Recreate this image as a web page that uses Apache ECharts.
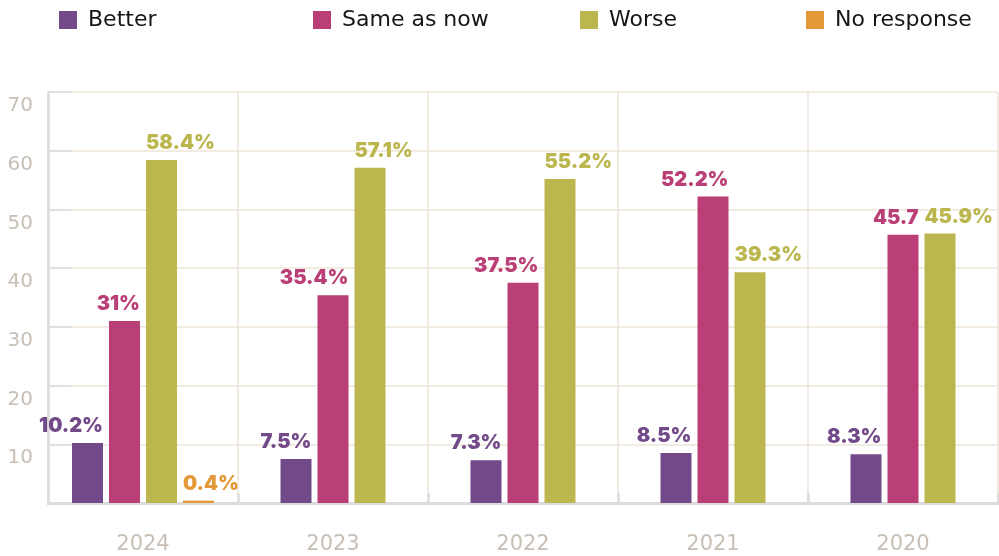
<!DOCTYPE html>
<html>
<head>
<meta charset="utf-8">
<script src="https://cdn.jsdelivr.net/npm/echarts@6/dist/echarts.min.js"></script>
<style>
  html, body { margin: 0; padding: 0; background: #ffffff; }
  #chart { width: 999px; height: 556px; }
</style>
</head>
<body>
<div id="chart"></div>
<script>
// Survey years and answer shares (%)
const categories = ['2024', '2023', '2022', '2021', '2020'];
const better = [10.2, 7.5, 7.3, 8.5, 8.3];
const sameAsNow = [31, 35.4, 37.5, 52.2, 45.7];
const worse = [58.4, 57.1, 55.2, 39.3, 45.9];
const noResponse = [0.4, null, null, null, null];
const yMax = 70;
const yStep = 10;
// values whose printed label carries no percent sign
const bareLabels = [['Same as now', '2020']];

const seriesDefs = [
  { name: 'Better', values: better, color: '#734a89', align: 'right' },
  { name: 'Same as now', values: sameAsNow, color: '#b93f76', align: 'right' },
  { name: 'Worse', values: worse, color: '#bcb64f', align: 'left' },
  { name: 'No response', values: noResponse, color: '#e3993a', align: 'left' }
];

const BAR_W = 31;
const BAR_GAP = 6;
const LABEL_FONT = '900 20px Inter, "DejaVu Sans", sans-serif';

function labelText(def, ci, v) {
  const bare = bareLabels.some(p => p[0] === def.name && p[1] === categories[ci]);
  return bare ? String(v) : v + '%';
}

// Bars in each year are grouped only over the answers present that year,
// so the group stays centred in its band.
function makeRenderer(si) {
  const def = seriesDefs[si];
  return function (params, api) {
    const ci = api.value(0);
    const v = api.value(1);
    const present = seriesDefs
      .map((d, i) => (d.values[ci] != null ? i : -1))
      .filter(i => i >= 0);
    const n = present.length;
    const slot = present.indexOf(si);
    const base = api.coord([ci, 0]);
    const top = api.coord([ci, v]);
    const groupW = n * BAR_W + (n - 1) * BAR_GAP;
    const x0 = base[0] - groupW / 2 + slot * (BAR_W + BAR_GAP);
    const tx = def.align === 'right' ? x0 + BAR_W : x0;
    return {
      type: 'group',
      children: [
        {
          type: 'rect',
          shape: { x: x0, y: top[1], width: BAR_W, height: base[1] - top[1] },
          style: { fill: def.color }
        },
        {
          type: 'text',
          style: {
            text: labelText(def, ci, v),
            x: tx,
            y: top[1] - 7,
            align: def.align,
            verticalAlign: 'bottom',
            fill: def.color,
            font: LABEL_FONT
          }
        }
      ]
    };
  };
}

const series = seriesDefs.map((def, si) => ({
  name: def.name,
  type: 'custom',
  renderItem: makeRenderer(si),
  itemStyle: { color: def.color },
  encode: { x: 0, y: 1 },
  data: def.values
    .map((v, ci) => (v == null ? null : [ci, v]))
    .filter(d => d !== null),
  z: 3
}));

const legendLefts = [59, 313, 580, 806];
const legend = seriesDefs.map((def, i) => ({
  data: [def.name],
  left: legendLefts[i],
  top: 9,
  padding: 0,
  icon: 'rect',
  itemWidth: 18,
  itemHeight: 18,
  selectedMode: false,
  textStyle: {
    fontFamily: '"DejaVu Sans", sans-serif',
    fontSize: 22,
    color: '#161616',
    padding: [2, 0, 0, 6]
  }
}));

const axisGrey = '#dcdcdc';
const gridBeige = '#ece5d9';
const labelGrey = '#c7bfb6';

const chart = echarts.init(document.getElementById('chart'), null, { renderer: 'canvas' });
chart.setOption({
  animation: false,
  backgroundColor: '#ffffff',
  legend: legend,
  grid: { left: 48, right: 1, top: 92, bottom: 53, containLabel: false },
  xAxis: {
    type: 'category',
    data: categories,
    boundaryGap: true,
    axisLine: { show: true, lineStyle: { color: axisGrey, width: 3 } },
    axisTick: { show: true, inside: true, length: 10, lineStyle: { color: axisGrey, width: 2.5 } },
    splitLine: { show: true, lineStyle: { color: gridBeige, width: 1.5 } },
    axisLabel: {
      color: labelGrey,
      fontFamily: '"DejaVu Sans", sans-serif',
      fontSize: 21,
      margin: 31
    }
  },
  yAxis: {
    type: 'value',
    min: 0,
    max: yMax,
    interval: yStep,
    axisLine: { show: true, lineStyle: { color: axisGrey, width: 2.5 } },
    axisTick: { show: true, inside: true, length: 23, lineStyle: { color: '#e3dfda', width: 2 } },
    splitLine: { show: true, lineStyle: { color: gridBeige, width: 1.5 } },
    axisLabel: {
      showMinLabel: false,
      color: labelGrey,
      fontFamily: '"DejaVu Sans", sans-serif',
      fontSize: 20,
      margin: 15,
      verticalAlign: 'top',
      padding: [4, 0, 0, 0]
    }
  },
  series: series
});
</script>
</body>
</html>
